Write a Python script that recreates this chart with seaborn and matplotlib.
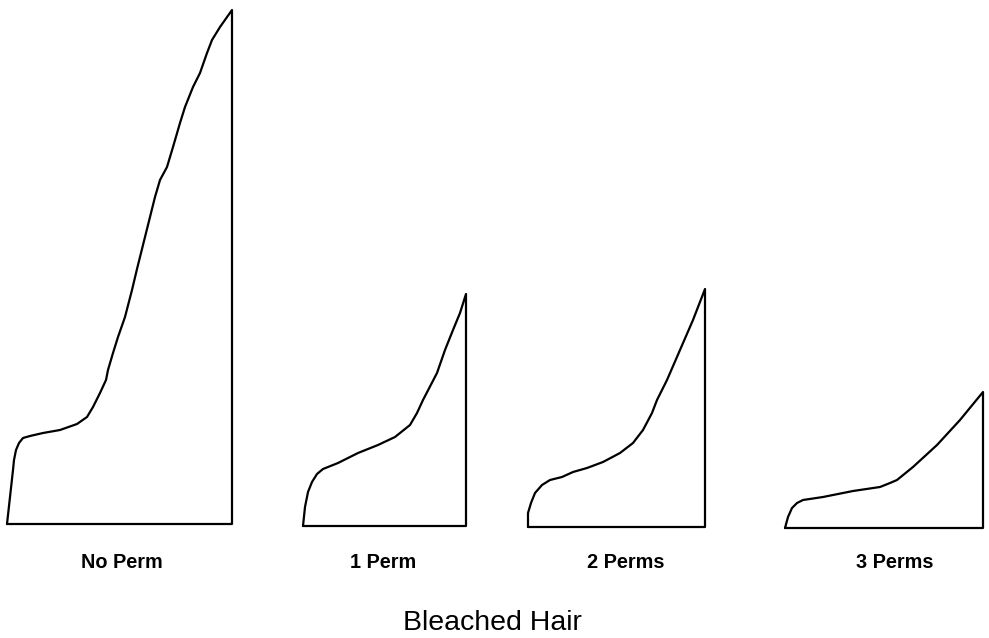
import matplotlib
matplotlib.use("Agg")
import matplotlib.pyplot as plt
import numpy as np
import pandas as pd
import seaborn as sns

# Load-extension traces for bleached hair after successive perms
conditions = ["No Perm", "1 Perm", "2 Perms", "3 Perms"]

strain_no_perm = [0, 3, 6, 7, 9, 12, 16, 23, 36, 53, 70, 80, 86, 93, 99, 101, 106,
                  111, 118, 125, 130, 138, 143, 148, 153, 160, 166, 173, 178, 186,
                  193, 200, 205, 213, 225]
stress_no_perm = [0, 27, 54, 64, 74, 81, 86, 88, 91, 94, 100, 107, 117, 131, 144, 154,
                  171, 187, 207, 234, 255, 287, 307, 327, 344, 357, 377, 401, 417,
                  437, 451, 471, 484, 497, 514]

strain_1_perm = [0, 2, 5, 9, 14, 20, 35, 55, 75, 92, 107, 114, 120, 134, 142, 150,
                 157, 163]
stress_1_perm = [0, 19, 34, 44, 52, 57, 63, 73, 81, 89, 101, 113, 126, 153, 176, 196,
                 213, 232]

strain_2_perms = [0, 0, 3, 7, 14, 22, 34, 45, 59, 75, 92, 105, 115, 124, 129, 139,
                  152, 165, 177]
stress_2_perms = [0, 14, 24, 34, 42, 47, 50, 55, 59, 65, 74, 84, 97, 114, 127, 147,
                  177, 207, 238]

strain_3_perms = [0, 3, 7, 12, 18, 38, 68, 95, 105, 112, 128, 152, 175, 198]
stress_3_perms = [0, 11, 20, 25, 28, 31, 37, 41, 45, 48, 61, 83, 108, 136]

title = "Bleached Hair"

# Layout: where each trace starts along the page and its baseline shift
panel_x0 = [7, 303, 528, 785]
panel_dy = [2, 0, -1, -2]
label_x = [122, 383, 626, 895]
label_y = -36
title_y = -97

strains = [strain_no_perm, strain_1_perm, strain_2_perms, strain_3_perms]
stresses = [stress_no_perm, stress_1_perm, stress_2_perms, stress_3_perms]

# Each trace is drawn as a closed outline: curve, drop at break, baseline back
frames = []
for name, x0, dy, s, f in zip(conditions, panel_x0, panel_dy, strains, stresses):
    xs = list(s) + [s[-1], 0]
    ys = list(f) + [0, 0]
    frames.append(pd.DataFrame({
        "x": np.array(xs, dtype=float) + x0,
        "y": np.array(ys, dtype=float) + dy,
        "condition": name,
        "order": np.arange(len(xs)),
    }))
df = pd.concat(frames, ignore_index=True)

sns.set_theme(style="white")
plt.rcParams["font.family"] = ["Liberation Sans", "DejaVu Sans"]

fig = plt.figure(figsize=(9.89, 6.38), dpi=100)
ax = fig.add_axes([0, 0, 1, 1])

sns.lineplot(data=df, x="x", y="y", units="condition", estimator=None,
             sort=False, color="black", linewidth=1.6, ax=ax)
for line in ax.get_lines():
    line.set_solid_joinstyle("round")
    line.set_solid_capstyle("round")

for name, lx in zip(conditions, label_x):
    ax.text(lx, label_y, name, ha="center", va="center",
            fontsize=14.3, fontweight="bold", color="black")

ax.text(492, title_y, title, ha="center", va="center",
        fontsize=20.5, color="black")

ax.set_xlim(0, 989)
ax.set_ylim(-112, 526)
ax.set_axis_off()

fig.savefig("out.png", dpi=100, facecolor="white")
